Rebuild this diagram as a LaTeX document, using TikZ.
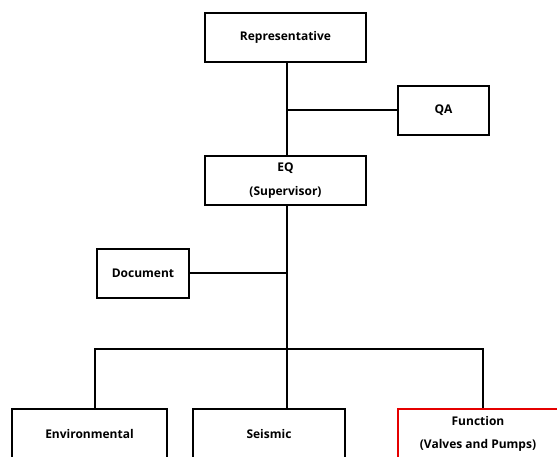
\documentclass[tikz,border=0pt]{standalone}
\usepackage{fontspec}
\setmainfont{Open Sans}
\usetikzlibrary{positioning}
\tikzset{
org box/.style = { rectangle, draw = black, fill = white, line width = 2pt, align = center, font = \fontsize{12}{23.5}\selectfont\bfseries },
red box/.style = { org box, draw = red!90!black },
link/.style = { draw = black, line width = 2pt },
}

\begin{document}
\begin{tikzpicture}[x = 1pt, y = -1pt]
    \useasboundingbox (0, 0) rectangle (557, 457);
    \clip (0, 0) rectangle (557, 457);
    \node[org box, minimum width = 161pt, minimum height = 49pt] (rep) at (285.5, 37.5) {Representative};
    \node[org box, minimum width = 91pt, minimum height = 49pt] (qa) at (443.5, 110.5) {QA};
    \node[org box, minimum width = 161pt, minimum height = 49pt] (eq) at (285.5, 180.5) {EQ\\(Supervisor)};
    \node[org box, minimum width = 92pt, minimum height = 49pt] (doc) at (143, 273.5) {Document};
    \node[org box, minimum width = 155pt, minimum height = 50pt] (env) at (89.5, 434) {Environmental};
    \node[org box, minimum width = 152pt, minimum height = 50pt] (seis) at (269, 434) {Seismic};
    \node[red box, minimum width = 160pt, minimum height = 50pt] (func) at (478, 434) {Function\\(Valves and Pumps)};
    % junctions
    \coordinate (j qa) at (287, 110);
    \coordinate (j doc) at (287, 273);
    \coordinate (j bar) at (287, 349);
    \coordinate (j left) at (95, 349);
    \coordinate (j right) at (483, 349);
    \path[link] (rep.south -| j qa) -- (eq.north -| j qa);
    \path[link] (j qa) -- (j qa -| qa.west);
    \path[link] (eq.south -| j bar) -- (seis.north -| j bar);
    \path[link] (j doc) -- (j doc -| doc.east);
    \path[link] (env.north -| j left) -- (j left) -- (j right) -- (func.north -| j right);
\end{tikzpicture}
\end{document}
